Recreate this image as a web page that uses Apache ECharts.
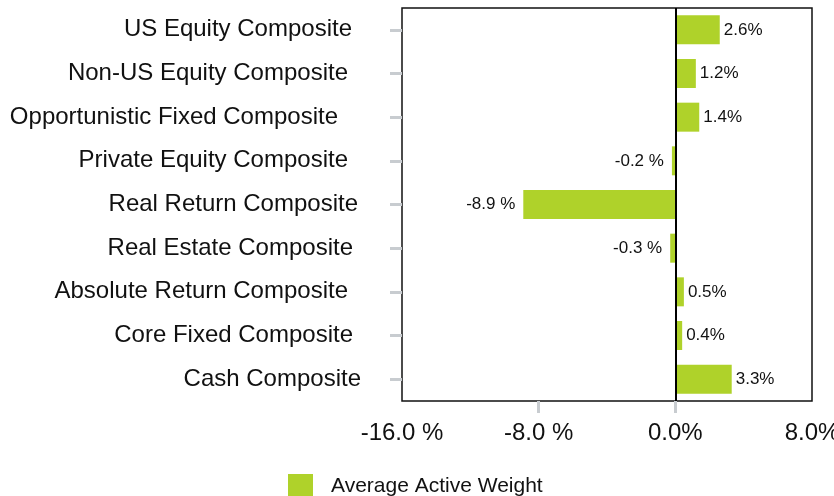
<!DOCTYPE html>
<html>
<head>
<meta charset="utf-8">
<script src="https://cdn.jsdelivr.net/npm/echarts@6/dist/echarts.min.js"></script>
<style>
  html, body { margin: 0; padding: 0; background: #fff; }
  #chart { width: 834px; height: 496px; }
</style>
</head>
<body>
<div id="chart"></div>
<script>
const categories = [
  'US Equity Composite',
  'Non-US Equity Composite',
  'Opportunistic Fixed Composite',
  'Private Equity Composite',
  'Real Return Composite',
  'Real Estate Composite',
  'Absolute Return Composite',
  'Core Fixed Composite',
  'Cash Composite'
];
const activeWeight = [2.6, 1.2, 1.4, -0.2, -8.9, -0.3, 0.5, 0.4, 3.3];
const xTicks = { min: -16, max: 8, interval: 8 };

// the original labels do not line up exactly on the right
const labelInset = [9, 13, 23, 13, 3, 8, 13, 8, 0];

const green = '#afd22a';
const font = 'Liberation Sans, Arial, sans-serif';

const chart = echarts.init(document.getElementById('chart'));

const barData = activeWeight.map(function (v) {
  const neg = v < 0;
  return {
    value: v,
    label: {
      position: neg ? 'left' : 'right',
      distance: neg ? 8 : 4,
      formatter: neg ? v.toFixed(1) + ' %' : v.toFixed(1) + '%'
    }
  };
});

const catData = categories.map(function (c, i) {
  return { value: c, textStyle: { padding: [0, labelInset[i], 0, 0] } };
});

chart.setOption({
  animation: false,
  grid: {
    left: 402, right: 22, top: 8, bottom: 95,
    outerBoundsMode: 'none',
    show: true, borderColor: '#111', borderWidth: 1.5,
    backgroundColor: 'transparent'
  },
  legend: {
    left: 283, top: 469,
    itemWidth: 25, itemHeight: 25,
    icon: 'rect',
    textStyle: { fontFamily: font, fontSize: 21, color: '#111', padding: [0, 0, 0, 13] },
    data: ['Average Active Weight']
  },
  xAxis: {
    type: 'value',
    min: xTicks.min, max: xTicks.max, interval: xTicks.interval,
    splitLine: { show: false },
    axisLine: { show: false },
    axisTick: {
      show: true, length: 12, customValues: [-8, 0],
      lineStyle: { color: '#c8ccd0', width: 3 }
    },
    axisLabel: {
      fontFamily: font, fontSize: 24, color: '#111', margin: 20,
      formatter: function (v) {
        return v < 0 ? v.toFixed(1) + ' %' : v.toFixed(1) + '%';
      }
    }
  },
  yAxis: {
    type: 'category',
    inverse: true,
    data: catData,
    axisLine: { show: false, onZero: false },
    axisTick: { show: true, length: 12, alignWithLabel: true, lineStyle: { color: '#c8ccd0', width: 3 } },
    axisLabel: { fontFamily: font, fontSize: 24, color: '#111', margin: 41 }
  },
  series: [{
    name: 'Average Active Weight',
    type: 'bar',
    barWidth: 29,
    itemStyle: { color: green },
    label: { show: true, fontFamily: font, fontSize: 17, color: '#111' },
    data: barData,
    markLine: {
      silent: true,
      symbol: 'none',
      label: { show: false },
      lineStyle: { color: '#000', width: 2, type: 'solid' },
      data: [{ xAxis: 0 }]
    }
  }]
});
</script>
</body>
</html>
